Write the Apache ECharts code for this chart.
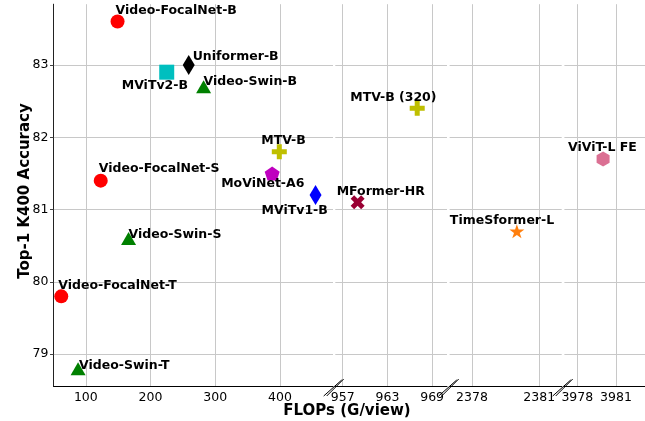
<!DOCTYPE html>
<html>
<head>
<meta charset="utf-8">
<script src="https://cdn.jsdelivr.net/npm/echarts@6/dist/echarts.min.js"></script>
<style>html,body{margin:0;padding:0;background:#fff}#c{width:645px;height:421px}</style>
</head>
<body>
<div id="c"></div>
<script>
// ---- data ----
var models = ['Video-FocalNet-T','Video-FocalNet-S','Video-FocalNet-B','Video-Swin-T','Video-Swin-S','Video-Swin-B','MViTv2-B','Uniformer-B','MTV-B','MoViNet-A6','MViTv1-B','MFormer-HR','MTV-B (320)','TimeSformer-L','ViViT-L FE'];
var flops = [62, 123, 149, 88, 166, 282, 225, 259, 399, 388, 455, 959, 967, 2380, 3980];
var acc = [79.8, 81.4, 83.6, 78.8, 80.6, 82.7, 82.9, 83.0, 81.8, 81.5, 81.2, 81.1, 82.4, 80.7, 81.7];
var segment = [0,0,0,0,0,0,0,0,0,0,0,1,1,2,3];
var xTicks = [[100,200,300,400],[957,963,969],[2378,2381],[3978,3981]];
var yTicks = [79,80,81,82,83];

// ---- styles ----
var ranges = [[50,482],[956,971],[2377,2382],[3977,3983.25]];
var gridBoxes = [[53.5,279.5],[335.3,111.7],[449.6,112.1],[564.4,80.6]];
var PLUS = 'path://M1,0H2V1H3V2H2V3H1V2H0V1H1Z';
var XMARK = 'path://M1,0L2,1L3,0L4,1L3,2L4,3L3,4L2,3L1,4L0,3L1,2L0,1Z';
var STAR = 'path://M100,0L122.45,69.1L195.1,69.1L136.3,111.8L158.8,180.9L100,138.2L41.2,180.9L63.7,111.8L4.9,69.1L77.55,69.1Z';
var PENT = 'path://M100,0L195.1,69.1L158.8,180.9L41.2,180.9L4.9,69.1Z';
var HEX = 'path://M100,0L186.6,50L186.6,150L100,200L13.4,150L13.4,50Z';
var styles = [
  {sym:'circle', size:14, color:'#ff0000', off:[-3,-11]},
  {sym:'circle', size:14, color:'#ff0000', off:[-2,-12]},
  {sym:'circle', size:14, color:'#ff0000', off:[-2,-11]},
  {sym:'triangle', size:[15,13], color:'#008000', off:[1,-3]},
  {sym:'triangle', size:[15,13], color:'#008000', off:[0,-4]},
  {sym:'triangle', size:[15,13], color:'#008000', off:[0,-5]},
  {sym:'rect', size:15, color:'#00bfbf', off:[-45,14]},
  {sym:'diamond', size:[12,20], color:'#000000', off:[4,-8]},
  {sym:PLUS, size:15, color:'#bfbf00', off:[-18,-11]},
  {sym:PENT, size:[15,14], color:'#bf00bf', off:[-51,10]},
  {sym:'diamond', size:[12,20], color:'#0000ff', off:[-54,16]},
  {sym:XMARK, size:14, color:'#990033', off:[-21,-11]},
  {sym:PLUS, size:15, color:'#bfbf00', off:[-67,-11]},
  {sym:STAR, size:[15,14], color:'#ff7f0e', off:[-67,-11]},
  {sym:HEX, size:[13,15], color:'#db7093', off:[-35,-11]}
];

function plain(v){ return String(v); }

var grids = [], xAxes = [], yAxes = [];
for (var g = 0; g < 4; g++) {
  grids.push({left: gridBoxes[g][0], width: gridBoxes[g][1], top: 4.2, height: 381.8});
  xAxes.push({
    type:'value', gridIndex:g, min:ranges[g][0], max:ranges[g][1],
    axisLine:{show:true, onZero:false, lineStyle:{color:'#000', width:1}},
    axisTick:{show:false, customValues:xTicks[g]},
    axisLabel:{customValues:xTicks[g], formatter:plain, color:'#000', fontSize:12.5, fontFamily:'DejaVu Sans', margin:5},
    splitLine:{show:true, lineStyle:{color:'#c8c8c8', width:1}}
  });
  yAxes.push({
    type:'value', gridIndex:g, min:78.56, max:83.84,
    axisLine:{show:g===0, lineStyle:{color:'#222', width:1}},
    axisTick:{show:g===0, length:3.5, lineStyle:{color:'#444'}, customValues:yTicks},
    axisLabel:{show:g===0, customValues:yTicks, formatter:plain, color:'#000', fontSize:12.5, fontFamily:'DejaVu Sans', margin:5},
    splitLine:{show:true, lineStyle:{color:'#c8c8c8', width:1}}
  });
}

var series = models.map(function(name, i){
  var st = styles[i];
  return {
    type:'scatter', name:name, xAxisIndex:segment[i], yAxisIndex:segment[i],
    data:[[flops[i], acc[i]]], symbol:st.sym, symbolSize:st.size,
    itemStyle:{color:st.color, opacity:1},
    z:5,
    label:{show:true, position:'inside', align:'left', verticalAlign:'middle', offset:st.off,
      formatter:name, color:'#000', fontWeight:'bold', fontSize:12.5, fontFamily:'DejaVu Sans'},
    emphasis:{disabled:true}
  };
});

var breaks = [333.7, 448.7, 562.7];
var graphics = [];
breaks.forEach(function(c){
  graphics.push({type:'line', shape:{x1:c-10, y1:396, x2:c+8, y2:380}, style:{stroke:'#000', lineWidth:1}, z:100});
  graphics.push({type:'line', shape:{x1:c-7, y1:396, x2:c+10, y2:379}, style:{stroke:'#000', lineWidth:1}, z:100});
});
graphics.push({type:'text', x:347, y:411, style:{text:'FLOPs (G/view)', font:'bold 15px "DejaVu Sans"', fill:'#000', textAlign:'center', textVerticalAlign:'middle'}});
graphics.push({type:'text', x:25, y:191, rotation:Math.PI/2, style:{text:'Top-1 K400 Accuracy', font:'bold 15px "DejaVu Sans"', fill:'#000', textAlign:'center', textVerticalAlign:'middle'}});

var chart = echarts.init(document.getElementById('c'), null, {renderer:'canvas'});
chart.setOption({
  animation:false,
  backgroundColor:'#fff',
  grid:grids, xAxis:xAxes, yAxis:yAxes, series:series, graphic:graphics
});
</script>
</body>
</html>
